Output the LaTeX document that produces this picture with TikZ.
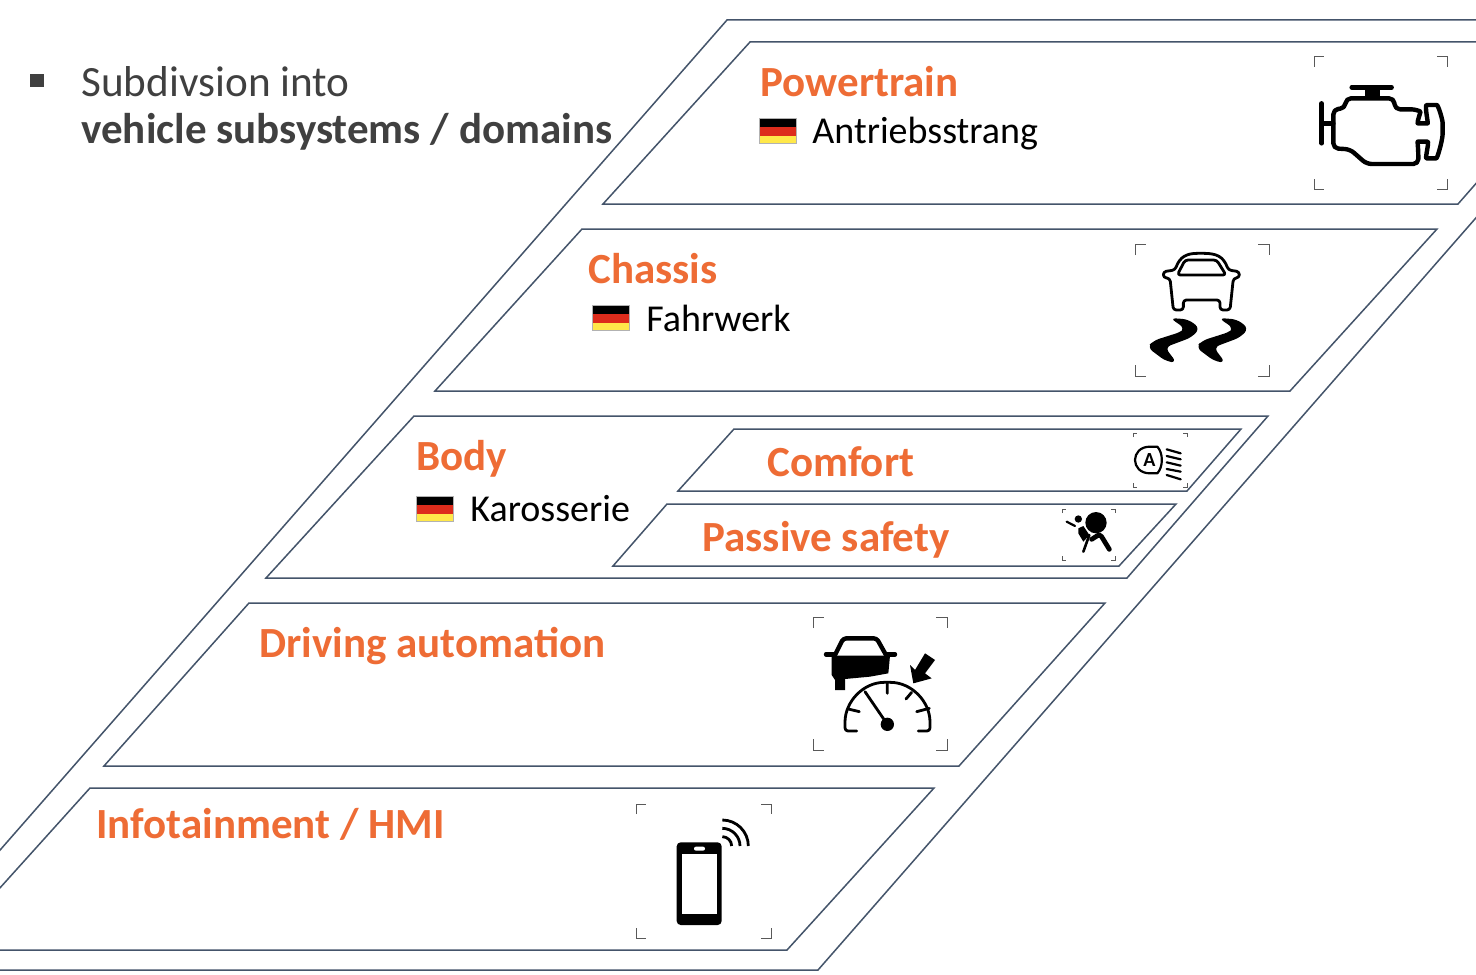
\documentclass[tikz,border=0pt]{standalone}
\usepackage{fontspec}
\setmainfont{Carlito}
\definecolor{layerline}{HTML}{44546A}
\definecolor{domain}{HTML}{EE6C35}
\definecolor{bullettext}{HTML}{404040}
\definecolor{flagred}{HTML}{DD2C1C}
\definecolor{flaggold}{HTML}{FFE84A}
% corner marks of an icon: x1,y1,x2,y2,length
\newcommand{\iconframe}[5]{
  \draw[mark line] (#1,#2+#5) -- (#1,#2) -- (#1+#5,#2);
  \draw[mark line] (#3-#5,#2) -- (#3,#2) -- (#3,#2+#5);
  \draw[mark line] (#1,#4-#5) -- (#1,#4) -- (#1+#5,#4);
  \draw[mark line] (#3-#5,#4) -- (#3,#4) -- (#3,#4-#5);
}
% small german flag at its top left corner
\newcommand{\deflag}[2]{
  \fill[black] (#1,#2) rectangle (#1+37,#2+9);
  \fill[flagred] (#1,#2+9) rectangle (#1+37,#2+18);
  \fill[flaggold] (#1,#2+18) rectangle (#1+37,#2+25);
  \draw[black!30,line width=0.3pt] (#1,#2) rectangle (#1+37,#2+25);
}
\begin{document}
\begin{tikzpicture}[x=0.5pt,y=-0.5pt]
  \tikzset{layer/.style={draw=layerline,line width=0.75pt,line join=miter},
    domain label/.style={font=\bfseries\fontsize{21.5}{22}\selectfont,text=domain,anchor=base west,inner sep=0pt},
    german label/.style={font=\fontsize{19}{20}\selectfont,text=black,anchor=base west,inner sep=0pt},
    bullet label/.style={font=\fontsize{21.6}{22}\selectfont,text=bullettext,anchor=base west,inner sep=0pt},
    mark line/.style={draw=black!65,line width=0.5pt},
    icon line/.style={draw=black,line width=2.2pt,line join=round,line cap=round,rounded corners=1.5pt},
    thin icon/.style={icon line,line width=1.4pt}}
  \useasboundingbox (0,0) rectangle (1476,974);
  \clip (0,0) rectangle (1476,974);
  \fill[white] (0,0) rectangle (1476,974);

  % layers
  \draw[layer] (727,20) -- (1649,20) -- (818,970) -- (-105,970) -- cycle;
  \draw[layer] (750,42) -- (1600,42) -- (1458,204) -- (603,204) -- cycle;
  \draw[layer] (582,229) -- (1437,229) -- (1290,391) -- (435,391) -- cycle;
  \draw[layer] (414,416) -- (1268,416) -- (1127,578) -- (266,578) -- cycle;
  \draw[layer] (734,429) -- (1241,429) -- (1187,491) -- (678,491) -- cycle;
  \draw[layer] (667,504) -- (1176,504) -- (1119,566) -- (613,566) -- cycle;
  \draw[layer] (249,603) -- (1105,603) -- (959,766) -- (104,766) -- cycle;
  \draw[layer] (90,788) -- (934,788) -- (787,950) -- (-56,950) -- cycle;

  % texts
  \fill[bullettext] (30,74) rectangle (44,87);
  \node[bullet label] (subdiv) at (81,97) {Subdivsion into};
  \node[bullet label,font=\bfseries\fontsize{21.5}{22}\selectfont] (subsys) at (81,143) {vehicle subsystems / domains};
  \node[domain label] (power) at (760,97) {Powertrain};
  \node[german label] (antrieb) at (812,143) {Antriebsstrang};
  \node[domain label] (chassis) at (588,283) {Chassis};
  \node[german label] (fahrwerk) at (646,331) {Fahrwerk};
  \node[domain label] (body) at (416,470) {Body};
  \node[german label] (karosserie) at (470,521) {Karosserie};
  \node[domain label] (comfort) at (767,476) {Comfort};
  \node[domain label] (passive) at (702,551) {Passive safety};
  \node[domain label] (driving) at (259,657) {Driving automation};
  \node[domain label] (info) at (96,838) {Infotainment / HMI};
  \deflag{759}{118}
  \deflag{592}{305}
  \deflag{416}{496}

  % engine
  \iconframe{1314}{57}{1447}{189}{10}
  \begin{scope}[shift={(1290,40)},scale=1/3]
    \draw[icon line,rounded corners=2.5pt] (130,245) -- (130,208) -- (165,205) -- (168,175) -- (312,175) -- (315,208) -- (378,208)
      .. controls (392,215) and (380,250) .. (398,250) .. controls (415,250) and (403,195) .. (425,195)
      .. controls (445,195) and (458,240) .. (458,265) .. controls (458,300) and (442,355) .. (424,355)
      .. controls (405,355) and (418,305) .. (398,305) .. controls (382,305) and (385,325) .. (385,372)
      -- (230,372) -- (180,328) -- (130,325) -- cycle;
    \draw[icon line] (95,190) -- (95,310) (95,250) -- (130,250);
    \draw[icon line] (185,142) -- (305,142);
    \fill[black] (225,142) rectangle (270,175);
  \end{scope}

  % car on a slippery road
  \iconframe{1135}{244}{1269}{376}{11}
  \begin{scope}[shift={(1120,230)},scale=1/3]
    \draw[thin icon] (165,120) .. controls (180,80) and (200,70) .. (242,70) .. controls (290,70) and (310,80) .. (325,120)
      -- (358,125) -- (358,143) -- (340,145) -- (330,240) -- (300,240) -- (300,210) -- (190,210) -- (190,240) -- (160,240)
      -- (150,145) -- (130,143) -- (130,125) -- cycle;
    \draw[thin icon] (172,135) -- (195,90) -- (290,90) -- (318,135) -- cycle;
    \foreach \sx in {0,146}{
      \fill[black,shift={(\sx,0)},rounded corners=3pt] (150,264) -- (205,268) -- (240,295) -- (215,322) -- (135,352) -- (170,398)
        -- (138,394) -- (82,352) -- (100,332) -- (185,305) -- (195,295) -- cycle;
    }
  \end{scope}

  % headlight
  \iconframe{1133}{433}{1187}{487}{4}
  \begin{scope}[shift={(1050,420)},scale=1/3]
    \draw[thin icon,sharp corners,line width=1.1pt] (300,80) -- (322,80) .. controls (340,100) and (340,140) .. (322,160) -- (300,160)
      .. controls (270,160) and (255,140) .. (255,120) .. controls (255,100) and (270,80) .. (300,80) -- cycle;
    \node[font=\bfseries\fontsize{10}{10}\selectfont,inner sep=0pt] (autolight) at (298,120) {A};
    \foreach \ya/\yb in {88/100,108/118,127/137,147/155,165/178}{
      \draw[thin icon,line width=1.1pt] (350,\ya) -- (392,\yb);
    }
  \end{scope}

  % airbag
  \iconframe{1062}{509}{1115}{560}{4}
  \begin{scope}[shift={(1050,420)},scale=1/3]
    \fill[black] (138,308) circle (32);
    \fill[black] (85,297) circle (11);
    \draw[thin icon,line width=1.1pt] (50,305) -- (75,318);
    \fill[black] (85,325) -- (100,318) -- (118,345) -- (100,365) -- (85,340) -- cycle;
    \draw[thin icon,line width=1.3pt] (118,345) -- (100,395);
    \draw[icon line,line width=2.4pt] (125,358) -- (150,342) -- (178,388);
  \end{scope}

  % car and speedometer
  \iconframe{813}{617}{947}{750}{11}
  \begin{scope}[shift={(800,605)},scale=1/3]
    \draw[icon line] (105,150) -- (130,100) -- (230,100) -- (258,150);
    \draw[icon line] (78,148) -- (105,148) (260,148) -- (285,148);
    \fill[black] (95,152) -- (270,152) -- (265,205) -- (210,215) -- (135,222) -- (135,255) -- (105,255) -- (105,225) -- (95,210) -- cycle;
    \fill[black] (340,235) -- (330,180) -- (345,195) -- (375,145) -- (405,165) -- (375,205) -- (395,220) -- cycle;
    \draw[thin icon] (170,378) -- (135,378) -- (135,360) .. controls (135,290) and (190,232) .. (262,232)
      .. controls (335,232) and (390,290) .. (390,360) -- (390,378) -- (355,378);
    \draw[thin icon] (262,232) -- (262,265) (335,262) -- (318,282) (388,310) -- (350,320) (145,312) -- (178,320);
    \draw[thin icon] (195,260) -- (262,358);
    \fill[black] (262,358) circle (20);
  \end{scope}

  % phone with radio waves
  \iconframe{636}{804}{771}{938}{10}
  \begin{scope}[shift={(625,790)},scale=1/3]
    \fill[black,rounded corners=2pt] (155,157) rectangle (290,405);
    \fill[white] (172,192) rectangle (275,372);
    \fill[white,rounded corners=1pt] (207,170) rectangle (240,182);
    \foreach \r in {28,53,78}{
      \draw[thin icon,line cap=butt] (292,168-\r) .. controls (292+0.55*\r,168-\r) and (292+\r,168-0.55*\r) .. (292+\r,168);
    }
  \end{scope}
\end{tikzpicture}
\end{document}
